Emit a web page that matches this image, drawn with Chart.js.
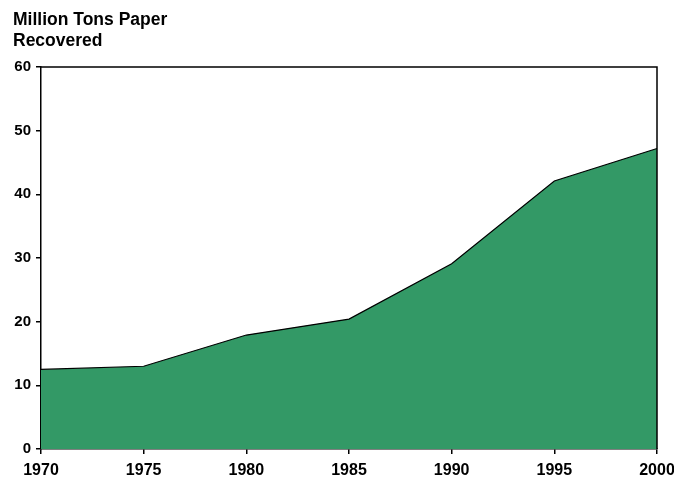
<!DOCTYPE html>
<html>
<head>
<meta charset="utf-8">
<script src="https://cdn.jsdelivr.net/npm/chart.js@4/dist/chart.umd.min.js"></script>
<style>
  html, body { margin: 0; padding: 0; background: #fff; }
  #wrap { width: 674px; height: 481px; position: relative; }
</style>
</head>
<body>
<div id="wrap"><canvas id="paperChart" width="674" height="481"></canvas></div>
<script>
// paper recovered, million tons
const years = ["1970", "1975", "1980", "1985", "1990", "1995", "2000"];
const recovered = [12.5, 13.0, 17.9, 20.4, 29.1, 42.1, 47.2];
const yTicks = [0, 10, 20, 30, 40, 50, 60];
const titleLines = ["Million Tons Paper", "Recovered"];

const FONT = "'Liberation Sans', Arial, sans-serif";

// heading above the axis plus a frame round the plot area
const frameAndTitle = {
    id: "frameAndTitle",
    afterDraw(chart) {
        const ctx = chart.ctx;
        const a = chart.chartArea;
        ctx.save();
        ctx.strokeStyle = "#000";
        ctx.lineWidth = 1.5;
        ctx.beginPath();
        ctx.moveTo(a.left, a.top);
        ctx.lineTo(a.right, a.top);
        ctx.lineTo(a.right, a.bottom);
        ctx.stroke();
        ctx.fillStyle = "#000";
        ctx.font = "bold 17.5px " + FONT;
        ctx.textBaseline = "alphabetic";
        ctx.textAlign = "left";
        titleLines.forEach((t, i) => ctx.fillText(t, 13, 25 + i * 21));
        ctx.restore();
    }
};

let ctx = document.getElementById("paperChart").getContext("2d");
new Chart(ctx, {
    type: "line",
    data: {
        labels: years,
        datasets: [{
            data: recovered,
            borderColor: "#000",
            borderWidth: 1.2,
            backgroundColor: "#339966",
            fill: "origin",
            pointRadius: 0,
            tension: 0
        }]
    },
    options: {
        responsive: false,
        animation: false,
        layout: { padding: { top: 67, right: 17, left: 0, bottom: 0 } },
        plugins: {
            legend: { display: false },
            tooltip: { enabled: false }
        },
        scales: {
            x: {
                offset: false,
                grid: { drawOnChartArea: false, tickLength: 5, color: "#000", lineWidth: 1.5 },
                border: { display: true, color: "#000", width: 1.5 },
                ticks: {
                    color: "#000",
                    font: { family: FONT, weight: "bold", size: 16 },
                    padding: 7,
                    maxRotation: 0,
                    autoSkip: false
                },
                afterFit(scale) {
                    scale.height = 32;
                    scale.paddingLeft = 0;
                    scale.paddingRight = 0;
                }
            },
            y: {
                min: 0,
                max: 60,
                afterBuildTicks(scale) { scale.ticks = yTicks.map(v => ({ value: v })); },
                grid: { drawOnChartArea: false, tickLength: 5, color: "#000", lineWidth: 1.5 },
                border: { display: true, color: "#000", width: 1.5 },
                ticks: {
                    color: "#000",
                    font: { family: FONT, weight: "bold", size: 15 },
                    padding: 5
                },
                afterFit(scale) {
                    scale.width = 41;
                    scale.paddingTop = 0;
                    scale.paddingBottom = 0;
                }
            }
        }
    },
    plugins: [frameAndTitle]
});
</script>
</body>
</html>
